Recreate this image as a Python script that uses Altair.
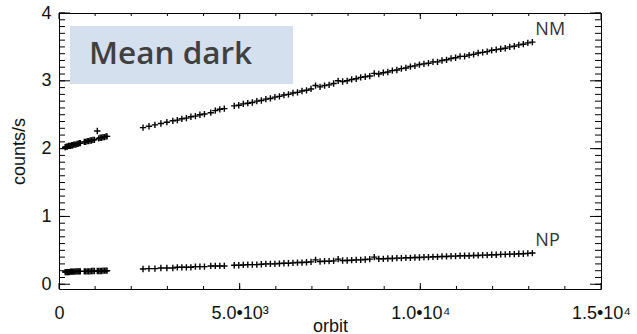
import altair as alt
import numpy as np
import pandas as pd

# Orbit numbers: early block and main block
orbit_early = [170, 200, 230, 260, 290, 320, 350, 380, 410, 440, 470, 500, 530, 560, 590,
               700, 740, 780, 820, 860, 900, 940, 980, 1060, 1100, 1140, 1180, 1220, 1260,
               1300, 1330]
orbit_main = [2325, 2490, 2655, 2820, 2985,
              3150, 3275, 3400, 3525, 3650, 3775, 3900, 4025,
              4200, 4325, 4450, 4575,
              4850, 4975, 5100, 5225, 5350, 5475, 5600, 5725, 5850, 5975,
              6100, 6225, 6350, 6475, 6600, 6725, 6850, 6975,
              7100, 7225, 7350, 7475, 7600, 7725, 7850, 7975,
              8100, 8225, 8350, 8475, 8600, 8725, 8850, 8975,
              9100, 9225, 9350, 9475, 9600, 9725, 9850, 9975,
              10100, 10225, 10350, 10475, 10600, 10725, 10850, 10975,
              11100, 11225, 11350, 11475, 11600, 11725, 11850, 11975,
              12100, 12225, 12350, 12475, 12600, 12725, 12850, 12975,
              13100]

# Mean dark rate, NM channel (counts/s)
nm_early = [2.02, 2.03, 2.03, 2.04, 2.04, 2.04, 2.05, 2.05, 2.06, 2.06, 2.06, 2.07, 2.07,
            2.08, 2.08, 2.10, 2.10, 2.11, 2.11, 2.12, 2.12, 2.13, 2.13, 2.26, 2.15, 2.16,
            2.16, 2.17, 2.17, 2.18, 2.18]
nm_main = [2.31, 2.33, 2.35, 2.37, 2.39,
           2.41, 2.42, 2.44, 2.45, 2.47, 2.48, 2.50, 2.51,
           2.53, 2.56, 2.58, 2.59,
           2.63, 2.64, 2.66, 2.67, 2.68, 2.70, 2.71, 2.73, 2.74, 2.76,
           2.77, 2.79, 2.80, 2.82, 2.83, 2.85, 2.86, 2.88,
           2.93, 2.91, 2.93, 2.94, 2.96, 3.00, 2.99, 3.00,
           3.02, 3.03, 3.05, 3.06, 3.07, 3.11, 3.10, 3.12,
           3.13, 3.15, 3.16, 3.18, 3.19, 3.21, 3.22, 3.24,
           3.25, 3.26, 3.28, 3.28, 3.30, 3.31, 3.33, 3.34,
           3.36, 3.36, 3.38, 3.39, 3.41, 3.42, 3.43, 3.45,
           3.46, 3.47, 3.48, 3.50, 3.51, 3.53, 3.54, 3.56,
           3.57]

# Mean dark rate, NP channel (counts/s)
np_early = [0.18, 0.18, 0.18, 0.18, 0.18, 0.185, 0.185, 0.185, 0.185, 0.185,
            0.19, 0.19, 0.19, 0.19, 0.19, 0.19, 0.19, 0.19, 0.19, 0.19,
            0.195, 0.195, 0.195, 0.195, 0.195, 0.195, 0.195, 0.20, 0.20, 0.20, 0.20]
np_main = [0.225, 0.23, 0.23, 0.24, 0.24,
           0.24, 0.25, 0.25, 0.25, 0.25, 0.26, 0.26, 0.26,
           0.27, 0.27, 0.27, 0.27,
           0.28, 0.28, 0.285, 0.29, 0.29, 0.29, 0.295, 0.30, 0.30, 0.30,
           0.305, 0.31, 0.31, 0.315, 0.32, 0.32, 0.325, 0.33,
           0.36, 0.335, 0.34, 0.34, 0.345, 0.37, 0.35, 0.35,
           0.355, 0.36, 0.36, 0.365, 0.37, 0.40, 0.375, 0.375,
           0.38, 0.38, 0.385, 0.385, 0.39, 0.39, 0.395, 0.395,
           0.40, 0.40, 0.405, 0.405, 0.41, 0.41, 0.415, 0.415,
           0.42, 0.42, 0.42, 0.425, 0.425, 0.43, 0.43, 0.435,
           0.435, 0.44, 0.44, 0.445, 0.445, 0.45, 0.45, 0.455,
           0.46]

# Channel labels placed at the end of each series
label_names = ["NM", "NP"]
label_orbit = [13100, 13100]
label_value = [3.57, 0.46]

# Axis ticks and labels
x_major = [0, 5000, 10000, 15000]
x_major_text = ["0", "5.0•10³", "1.0•10⁴", "1.5•10⁴"]
x_minor = list(range(1000, 15000, 1000))
y_major = [0, 1, 2, 3, 4]
y_minor = [round(v, 1) for v in np.arange(0, 4.01, 0.1)]

orbits = orbit_early + orbit_main
df = pd.DataFrame({
    "orbit": orbits + orbits,
    "rate": nm_early + nm_main + np_early + np_main,
    "channel": ["NM"] * len(orbits) + ["NP"] * len(orbits),
})
labels_df = pd.DataFrame({"name": label_names, "orbit": label_orbit, "rate": label_value})

W, H = 542, 276
FONT = "Liberation Sans"
x_scale = alt.Scale(domain=[0, 15000], nice=False, zero=False)
y_scale = alt.Scale(domain=[-0.07, 4], nice=False, zero=False)

label_expr = " : ".join(
    f"datum.value == {v} ? '{t}'" for v, t in zip(x_major, x_major_text)
) + " : ''"

# Plus-shaped markers for every measurement, with the labelled axes
points = alt.Chart(df).mark_point(
    shape="M-1,0H1M0,-1V1", size=40, filled=False, stroke="black", strokeWidth=1.4,
    opacity=1
).encode(
    x=alt.X("orbit:Q", scale=x_scale, axis=alt.Axis(
        orient="bottom", title="orbit", values=x_major, labelExpr=label_expr,
        ticks=False, tickSize=0, domain=False, grid=False, labelPadding=15,
        labelFont=FONT, labelFontSize=18, labelColor="#111", labelFlush=False,
        titleFont=FONT, titleFontSize=18, titleFontWeight="normal", titleColor="#111",
        titleBaseline="alphabetic", titleY=42)),
    y=alt.Y("rate:Q", scale=y_scale, axis=alt.Axis(
        orient="left", title="counts/s", values=y_major, format="d",
        ticks=False, tickSize=0, domain=False, grid=False, labelPadding=8,
        labelFont=FONT, labelFontSize=18, labelColor="#111",
        titleFont=FONT, titleFontSize=18, titleFontWeight="normal", titleColor="#111",
        titlePadding=12)),
    detail="channel:N",
)


def x_ticks(values, length):
    """Inward tick marks on the bottom and top edges."""
    src = alt.Chart(pd.DataFrame({"v": values}))
    enc_x = alt.X("v:Q", scale=x_scale, axis=None)
    bottom = src.mark_rule(color="black", strokeWidth=1).encode(
        x=enc_x, y=alt.value(H), y2=alt.value(H - length))
    top = src.mark_rule(color="black", strokeWidth=1).encode(
        x=enc_x, y=alt.value(0), y2=alt.value(length))
    return [bottom, top]


def y_ticks(values, length):
    """Inward tick marks on the left and right edges."""
    src = alt.Chart(pd.DataFrame({"v": values}))
    enc_y = alt.Y("v:Q", scale=y_scale, axis=None)
    left = src.mark_rule(color="black", strokeWidth=1).encode(
        y=enc_y, x=alt.value(0), x2=alt.value(length))
    right = src.mark_rule(color="black", strokeWidth=1).encode(
        y=enc_y, x=alt.value(W), x2=alt.value(W - length))
    return [left, right]


tick_layers = (x_ticks(x_minor, 3) + x_ticks(x_major, 6)
               + y_ticks(y_minor, 6) + y_ticks(y_major, 11))

# Title panel in the upper-left corner
panel = alt.Chart(alt.Data(values=[{"t": "Mean dark"}])).mark_rect(
    color="#d5e0ef"
).encode(x=alt.value(11), x2=alt.value(234), y=alt.value(13), y2=alt.value(71))
panel_text = alt.Chart(alt.Data(values=[{"t": "Mean dark"}])).mark_text(
    align="left", baseline="alphabetic", font="Open Sans", fontSize=31.5,
    fontWeight=600, color="#404040"
).encode(text="t:N", x=alt.value(30), y=alt.value(51))

channel_labels = alt.Chart(labels_df).mark_text(
    align="left", baseline="middle", font="Open Sans", fontSize=18, color="#333",
    dx=3, dy=-12
).encode(
    x=alt.X("orbit:Q", scale=x_scale, axis=None),
    y=alt.Y("rate:Q", scale=y_scale, axis=None),
    text="name:N",
)

chart = alt.layer(
    panel, panel_text, points, *tick_layers, channel_labels,
).resolve_axis(
    x="independent", y="independent"
).properties(
    width=W, height=H,
    autosize=alt.AutoSizeParams(type="none"),
    padding={"left": 59, "top": 13, "right": 36, "bottom": 45},
).configure_view(
    stroke="black", strokeWidth=1
)

chart.save("out.html", embed_options={"renderer": "svg", "actions": False})
